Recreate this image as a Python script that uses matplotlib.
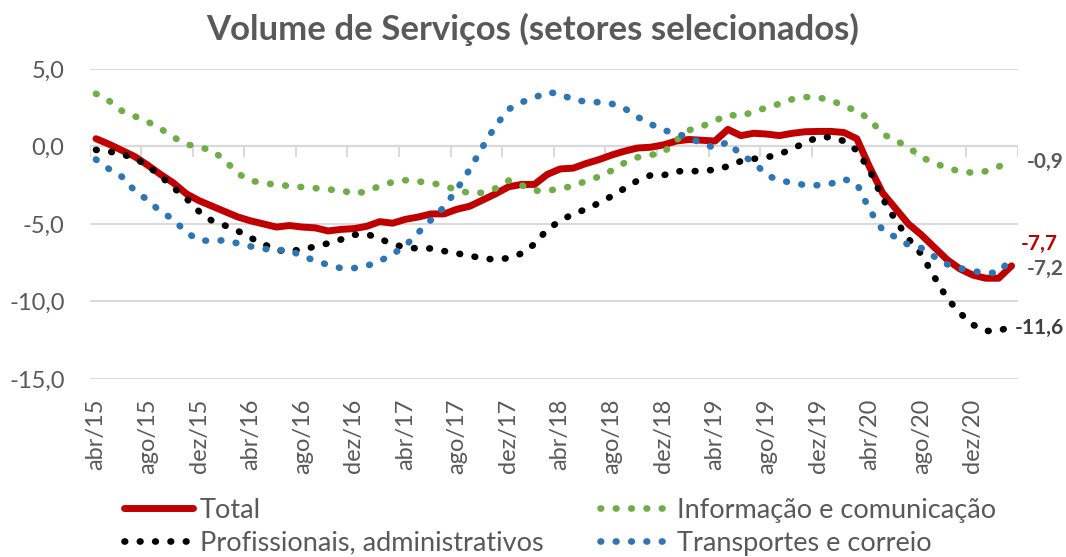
import matplotlib
matplotlib.use("Agg")
import matplotlib.pyplot as plt
import numpy as np

plt.rcParams['font.family'] = ['Lato', 'DejaVu Sans']

# meses: abr/15 ... mar/21
meses = ['jan', 'fev', 'mar', 'abr', 'mai', 'jun', 'jul', 'ago', 'set', 'out', 'nov', 'dez']
rotulos = []
for k in range(72):
    m = (3 + k) % 12
    a = 15 + (3 + k) // 12
    rotulos.append(f'{meses[m]}/{a}')

total = [0.5, 0.15, -0.25, -0.65, -1.2, -1.8, -2.35, -3.05, -3.5, -3.85, -4.2, -4.55,
         -4.8, -5.0, -5.2, -5.1, -5.2, -5.25, -5.45, -5.35, -5.3, -5.15, -4.85, -4.95,
         -4.7, -4.55, -4.35, -4.35, -4.05, -3.85, -3.45, -3.05, -2.6, -2.45, -2.45, -1.8,
         -1.45, -1.4, -1.1, -0.85, -0.55, -0.3, -0.1, -0.05, 0.1, 0.35, 0.45, 0.4,
         0.35, 1.1, 0.7, 0.85, 0.8, 0.7, 0.85, 0.95, 0.97, 0.97, 0.9, 0.5,
         -1.35, -3.0, -4.0, -5.0, -5.7, -6.5, -7.3, -7.9, -8.3, -8.5, -8.5, -7.7]

informacao = [3.4, 2.95, 2.3, 1.95, 1.6, 1.15, 0.6, 0.15, -0.05, -0.25, -0.9, -1.75,
              -2.2, -2.37, -2.47, -2.55, -2.62, -2.69, -2.78, -2.82, -3.05, -2.9, -2.55, -2.3,
              -2.18, -2.26, -2.34, -2.55, -2.8, -3.02, -2.98, -2.7, -2.2, -2.5, -2.85, -2.86,
              -2.72, -2.55, -2.23, -1.95, -1.55, -1.05, -0.7, -0.55, -0.4, 0.4, 1.05, 1.3,
              1.65, 2.05, 1.95, 2.25, 2.5, 2.75, 3.05, 3.19, 3.15, 3.0, 2.6, 2.3,
              1.75, 0.8, 0.4, -0.05, -0.7, -1.05, -1.4, -1.6, -1.7, -1.6, -1.3, -0.9]

profissionais = [-0.22, -0.32, -0.5, -0.75, -1.25, -1.9, -2.65, -3.35, -4.2, -4.8, -5.1, -5.45,
                 -5.9, -6.3, -6.7, -6.75, -6.65, -6.45, -6.25, -6.0, -5.7, -5.65, -5.95, -6.3,
                 -6.52, -6.58, -6.58, -6.75, -6.9, -7.05, -7.22, -7.3, -7.2, -6.9, -6.3, -5.35,
                 -4.8, -4.35, -4.05, -3.65, -3.2, -2.7, -2.2, -1.86, -1.86, -1.6, -1.6, -1.58,
                 -1.5, -1.28, -0.95, -0.8, -0.7, -0.5, -0.15, 0.25, 0.6, 0.6, 0.35, -0.25,
                 -1.55, -3.35, -4.75, -5.95, -6.95, -8.4, -9.8, -10.75, -11.5, -11.9, -11.9, -11.6]

transportes = [-0.84, -1.45, -1.95, -2.85, -3.45, -4.2, -4.7, -5.55, -6.05, -6.1, -6.05, -6.25,
               -6.45, -6.6, -6.7, -6.67, -7.1, -7.35, -7.65, -7.85, -7.85, -7.7, -7.4, -6.95,
               -6.4, -5.55, -4.72, -3.9, -2.75, -1.45, 0.0, 1.35, 2.4, 2.85, 3.15, 3.5,
               3.4, 3.0, 2.9, 2.85, 2.75, 2.45, 1.9, 1.45, 1.05, 0.85, 0.55, 0.2,
               -0.1, 0.3, -0.55, -1.0, -1.85, -2.2, -2.33, -2.5, -2.5, -2.4, -2.1, -2.4,
               -4.1, -5.4, -5.85, -6.35, -6.55, -7.1, -7.6, -7.85, -8.05, -8.15, -8.15, -7.2]

CINZA = '#595959'
GRADE = '#d9d9d9'
VERMELHO = '#C00000'
VERDE = '#70AD47'
AZUL = '#2E75B6'

fig = plt.figure(figsize=(10.66, 5.57), dpi=100)
ax = fig.add_axes([0.084, 0.3196, 0.871, 0.5566])

x = np.arange(len(total))
pontilhado = dict(linestyle=(0, (0.1, 2.2)), dash_capstyle='round', lw=4.8)

l1, = ax.plot(x, total, color=VERMELHO, lw=5, solid_capstyle='round', label='Total', zorder=3)
l2, = ax.plot(x, informacao, color=VERDE, label='Informação e comunicação', zorder=4, **pontilhado)
l3, = ax.plot(x, profissionais, color='black', label='Profissionais, administrativos', zorder=5, **pontilhado)
l4, = ax.plot(x, transportes, color=AZUL, label='Transportes e correio', zorder=6, **pontilhado)

ax.set_xlim(-0.5, len(x) - 0.5)
ax.set_ylim(-15, 5)
ax.set_yticks([5, 0, -5, -10, -15])
ax.set_yticklabels(['5,0', '0,0', '-5,0', '-10,0', '-15,0'])
ax.grid(axis='y', color=GRADE, lw=1.4)
ax.set_axisbelow(True)

# eixo horizontal em zero, com marcas entre categorias
ax.axhline(0, color=GRADE, lw=1.6, zorder=1)
marcas = np.arange(-0.5, len(x), 4)
ax.vlines(marcas, -0.65, 0, color=GRADE, lw=1.4, zorder=1)

ax.set_xticks(x[::4])
ax.set_xticklabels(rotulos[::4], rotation=90)
ax.tick_params(axis='x', length=0, pad=14, labelsize=17, labelcolor=CINZA)
ax.tick_params(axis='y', length=0, pad=18, labelsize=17, labelcolor=CINZA)
for s in ax.spines.values():
    s.set_visible(False)

fig.suptitle('Volume de Serviços (setores selecionados)', fontsize=25, fontweight='bold',
             color=CINZA, x=0.5, y=0.928, va='baseline')

# rótulos finais
kw = dict(textcoords='offset points', fontsize=15, fontweight='bold', va='center', ha='left')
ax.annotate('-0,9', (x[-1], informacao[-1]), xytext=(11, -1), color=CINZA, **kw)
ax.annotate('-7,7', (x[-1], total[-1]), xytext=(6.5, 16), color=VERMELHO, **kw)
ax.annotate('-7,2', (x[-1], transportes[-1]), xytext=(11, -8), color=CINZA, **kw)
ax.annotate('-11,6', (x[-1], profissionais[-1]), xytext=(2, -1), color='#404040', **kw)

fig.legend(handles=[l1, l3, l2, l4], loc='lower left', bbox_to_anchor=(110 / 1066, -0.022),
           ncol=2, frameon=False, fontsize=19.5, labelcolor=CINZA, borderpad=0,
           handlelength=2.55, handletextpad=0.27, columnspacing=2.1, labelspacing=0.3)

plt.savefig('out.png', dpi=100)
